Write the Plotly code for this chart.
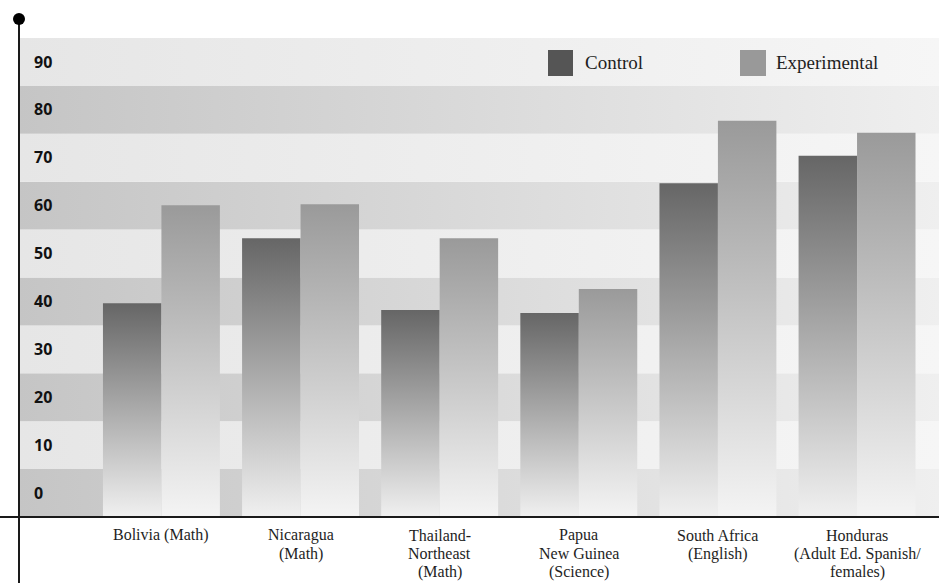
import plotly.graph_objects as go

categories = [
    "Bolivia (Math)",
    "Nicaragua<br>(Math)",
    "Thailand-<br>Northeast<br>(Math)",
    "Papua<br>New Guinea<br>(Science)",
    "South Africa<br>(English)",
    "Honduras<br>(Adult Ed. Spanish/<br>females)",
]
control = [39.6, 53.2, 38.2, 37.6, 64.7, 70.4]
experimental = [60.1, 60.3, 53.2, 42.6, 77.7, 75.2]
tick_values = [0, 10, 20, 30, 40, 50, 60, 70, 80, 90]
tick_labels = ["0", "10", "20", "30", "40", "50", "60", "70", "80", "90"]
series_names = ["Control", "Experimental"]

# layout geometry (pixels)
W, H = 939, 583
ML, MR, MT, MB = 19, 0, 38, 66
PW, PH = W - ML - MR, H - MT - MB
GAP = 139.2
XR = [-(161.5 - ML) / GAP, 5 + (W - 857) / GAP]
YR = [-5, 95]
BW = 58.5 / GAP

fig = go.Figure()

# background bands with horizontal gradient
for k, v in enumerate(tick_values):
    lo, hi = v - 5, v + 5
    if k % 2 == 0:
        cs = [[0, "#c5c5c5"], [1, "#efefef"]]
    else:
        cs = [[0, "#e6e6e6"], [1, "#f6f6f6"]]
    fig.add_trace(go.Scatter(
        x=[XR[0], XR[1], XR[1], XR[0], XR[0]],
        y=[lo, lo, hi, hi, lo],
        fill="toself", mode="lines", line=dict(width=0),
        fillgradient=dict(type="horizontal", colorscale=cs, start=XR[0], stop=XR[1]),
        hoverinfo="skip", showlegend=False,
    ))

# bars with vertical gradient
def add_bar(val, left, top_color, bottom_color, name):
    x0, x1 = left, left + BW
    fig.add_trace(go.Scatter(
        x=[x0, x1, x1, x0, x0],
        y=[YR[0], YR[0], val, val, YR[0]],
        fill="toself", mode="lines", line=dict(width=0),
        fillgradient=dict(type="vertical",
                          colorscale=[[0, bottom_color], [1, top_color]],
                          start=YR[0], stop=val),
        name=name, hoverinfo="name+y", showlegend=False,
    ))

for i, (c, e) in enumerate(zip(control, experimental)):
    add_bar(c, i - BW, "#666666", "#f0f0f0", series_names[0])
    add_bar(e, i, "#9a9a9a", "#f4f4f4", series_names[1])

def px_x(p):
    return (p - ML) / PW

def px_y(p):
    return (H - MB - p) / PH

shapes = [
    # x axis line
    dict(type="line", xref="paper", yref="paper", x0=px_x(0), x1=px_x(W), y0=0, y1=0,
         line=dict(color="#1a1a1a", width=2)),
    # y axis line
    dict(type="line", xref="paper", yref="paper", x0=0, x1=0, y0=px_y(H), y1=px_y(19),
         line=dict(color="#1a1a1a", width=2)),
    # dot on top of y axis
    dict(type="circle", xref="paper", yref="paper", xsizemode="pixel", ysizemode="pixel",
         xanchor=0, yanchor=px_y(19), x0=-6, x1=6, y0=-6, y1=6,
         fillcolor="#000000", line=dict(color="#000000", width=0)),
    # legend squares
    dict(type="rect", xref="paper", yref="paper", x0=px_x(548), x1=px_x(573),
         y0=px_y(76), y1=px_y(50), fillcolor="#555555", line=dict(width=0)),
    dict(type="rect", xref="paper", yref="paper", x0=px_x(740), x1=px_x(766),
         y0=px_y(76), y1=px_y(50), fillcolor="#999999", line=dict(width=0)),
]

label_font = dict(family="Liberation Serif", size=16, color="#1e1e1e")
annotations = [
    dict(text=series_names[0], xref="paper", yref="paper", x=px_x(583), y=px_y(62),
         xanchor="left", yanchor="middle", showarrow=False,
         font=dict(family="Liberation Serif", size=19, color="#1e1e1e")),
    dict(text=series_names[1], xref="paper", yref="paper", x=px_x(774), y=px_y(62),
         xanchor="left", yanchor="middle", showarrow=False,
         font=dict(family="Liberation Serif", size=19, color="#1e1e1e")),
]

# category labels, one line per annotation for tight line spacing
for i, cat in enumerate(categories):
    for j, line in enumerate(cat.split("<br>")):
        annotations.append(dict(
            text=line, xref="x", yref="paper", x=i, y=px_y(535 + 18.5 * j),
            xanchor="center", yanchor="middle", showarrow=False, font=label_font,
            borderpad=0,
        ))

fig.update_layout(
    width=W, height=H,
    margin=dict(l=ML, r=MR, t=MT, b=MB, pad=0),
    paper_bgcolor="white", plot_bgcolor="white",
    showlegend=False,
    shapes=shapes, annotations=annotations,
    xaxis=dict(range=XR, tickmode="array", tickvals=list(range(len(categories))),
               ticktext=[""] * len(categories), showticklabels=False,
               showgrid=False, zeroline=False, showline=False, ticks="",
               fixedrange=True),
    yaxis=dict(range=YR, tickmode="array", tickvals=tick_values, ticktext=tick_labels,
               showgrid=False, zeroline=False, showline=False, ticks="",
               ticklabelposition="inside", ticklabelstandoff=12,
               tickfont=dict(family="Open Sans", size=16, color="#111111", weight="bold"),
               fixedrange=True),
)

fig.write_html("out.html")
